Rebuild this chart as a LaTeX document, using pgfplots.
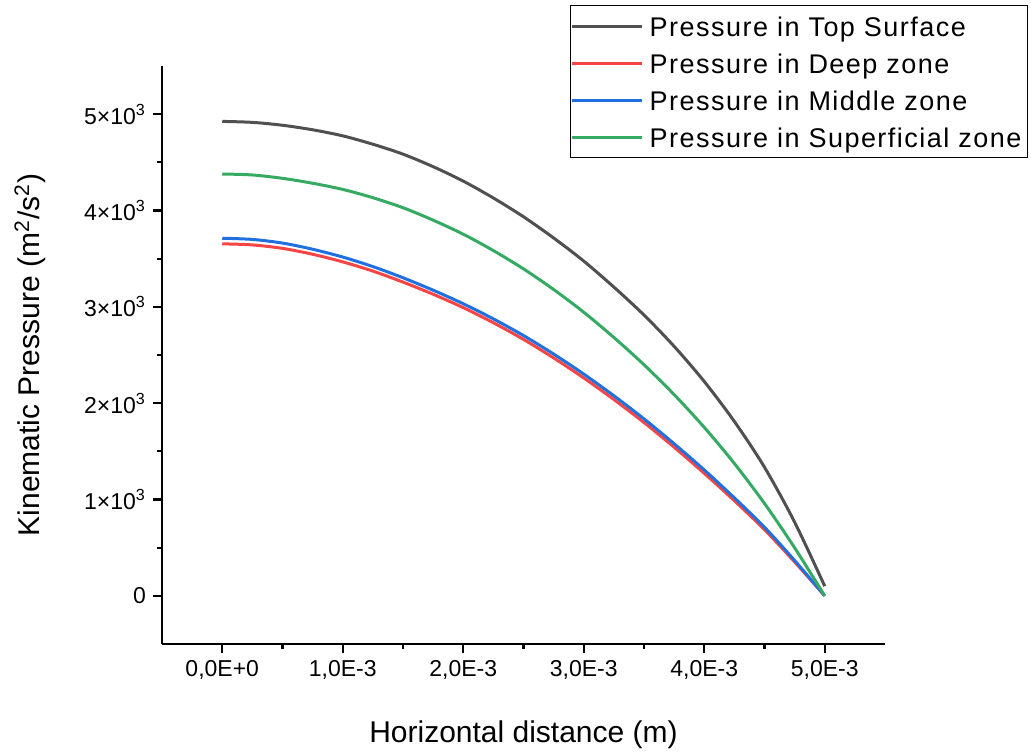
\documentclass[border=0pt]{standalone}
\usepackage{fontspec}
\setmainfont{Liberation Sans}
\newfontfamily\legfont[LetterSpace=5.5]{Liberation Sans}
\usepackage{pgfplots}
\pgfplotsset{compat=1.18}

\definecolor{ctop}{HTML}{505050}
\definecolor{cdeep}{HTML}{F54545}
\definecolor{cmid}{HTML}{2070E0}
\definecolor{csup}{HTML}{35AA62}

% x in units of 1E-3 m, y in m^2/s^2
\pgfplotstableread{
x     top   deep  mid   sup
0.00  4925  3654  3712  4379
0.25  4915  3643  3700  4369
0.50  4885  3607  3662  4334
0.75  4838  3546  3598  4283
1.00  4775  3467  3517  4219
1.25  4688  3371  3418  4133
1.50  4585  3257  3302  4029
1.75  4455  3131  3173  3900
2.00  4305  2992  3032  3754
2.25  4130  2835  2875  3584
2.50  3935  2662  2702  3394
2.75  3715  2470  2510  3180
3.00  3475  2262  2302  2944
3.25  3205  2038  2077  2682
3.50  2915  1799  1837  2399
3.75  2590  1543  1579  2089
4.00  2225  1272  1307  1749
4.25  1810   987  1017  1374
4.50  1335   687   712   959
4.75   765   352   367   499
5.00   100     0     0     0
}\datatable

\begin{document}
\begin{tikzpicture}
\useasboundingbox (-81pt,-53.5pt) rectangle (434.5pt,322pt);
\begin{axis}[
  scale only axis, width=361.5pt, height=289pt,
  xmin=-0.5, xmax=5.5, ymin=-500, ymax=5500,
  axis lines*=left,
  axis line style={line width=1.3pt},
  tick align=outside,
  major tick length=4.5pt, minor tick length=2.3pt,
  every tick/.style={black, line width=1.1pt},
  xtick={0,1,2,3,4,5},
  xticklabels={{0,0E+0},{1,0E-3},{2,0E-3},{3,0E-3},{4,0E-3},{5,0E-3}},
  ytick={0,1000,2000,3000,4000,5000},
  yticklabels={0,1×10\textsuperscript{3},2×10\textsuperscript{3},3×10\textsuperscript{3},4×10\textsuperscript{3},5×10\textsuperscript{3}},
  minor x tick num=1, minor y tick num=1,
  tick label style={font=\fontsize{11.5}{13}\selectfont},
  xlabel={Horizontal distance (m)},
  ylabel={Kinematic Pressure (m\textsuperscript{2}/s\textsuperscript{2})},
  label style={font=\fontsize{15}{18}\selectfont},
  xlabel style={at={(axis description cs:0.5,-0.1696)}, anchor=base},
  ylabel style={at={(axis description cs:-0.151,0.5)}, anchor=south},
  legend style={at={(axis description cs:1.198,1.1055)}, anchor=north east,
    draw=black, line width=0.7pt, inner xsep=0pt, inner ysep=1.5pt,
    font=\legfont\fontsize{13.5}{16}\selectfont,
    nodes={inner xsep=3pt, inner ysep=0pt, text height=14pt, text depth=3.5pt},
    row sep=1pt},
  legend cell align=left,
  legend image code/.code={\draw[#1, line width=1.5pt] (0pt,0pt) -- (35pt,0pt);},
  every axis plot/.append style={line width=1.5pt, smooth},
]
\addplot[ctop] table[x=x, y=top] {\datatable};
\addplot[cdeep] table[x=x, y=deep] {\datatable};
\addplot[cmid] table[x=x, y=mid] {\datatable};
\addplot[csup] table[x=x, y=sup] {\datatable};
\legend{Pressure in Top Surface, Pressure in Deep zone, Pressure in Middle zone, Pressure in Superficial zone}
\end{axis}
\end{tikzpicture}
\end{document}
